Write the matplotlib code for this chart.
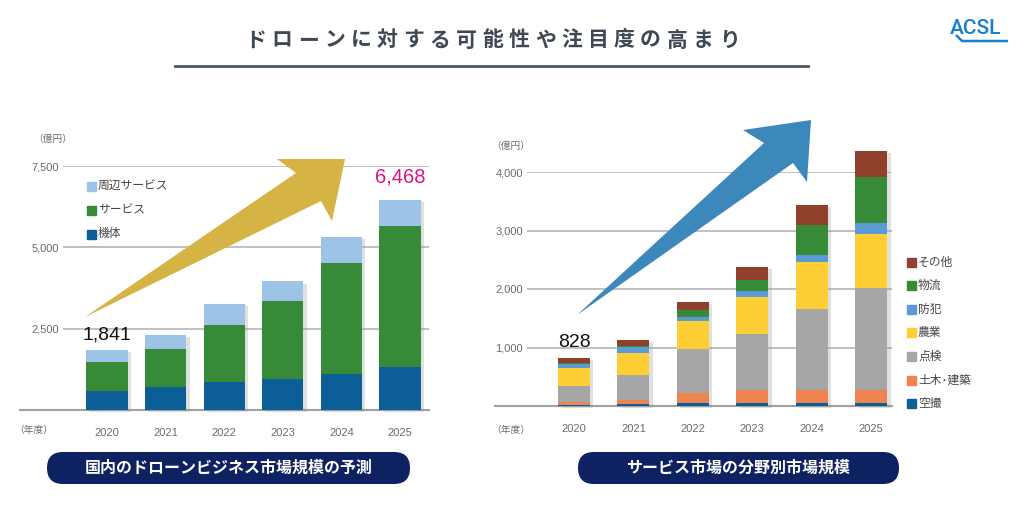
import matplotlib
matplotlib.use("Agg")
import matplotlib.pyplot as plt
import matplotlib.patheffects as pe
from matplotlib.patches import Polygon, FancyBboxPatch, Rectangle
import numpy as np

plt.rcParams["font.family"] = ["Noto Sans CJK JP", "DejaVu Sans"]

# ---- data ----
years = ["2020", "2021", "2022", "2023", "2024", "2025"]

# 国内のドローンビジネス市場規模 (億円)
left_names = ["機体", "サービス", "周辺サービス"]
kitai = [590, 710, 860, 950, 1100, 1330]
service = [880, 1160, 1760, 2410, 3430, 4330]
shuhen = [371, 440, 630, 590, 790, 808]
left_series = [kitai, service, shuhen]
left_colors = ["#0B5F96", "#368A38", "#9DC3E6"]
left_first = "1,841"
left_last = "6,468"

# サービス市場の分野別市場規模 (億円)
right_names = ["空撮", "土木･建築", "点検", "農業", "防犯", "物流", "その他"]
kusatsu = [15, 30, 46, 46, 46, 56]
doboku = [55, 74, 178, 224, 236, 222]
tenken = [265, 422, 753, 954, 1373, 1743]
nogyo = [312, 387, 483, 632, 799, 917]
bohan = [75, 104, 69, 104, 121, 186]
butsuryu = [15, 5, 109, 189, 517, 788]
sonota = [91, 111, 144, 225, 345, 448]
right_series = [kusatsu, doboku, tenken, nogyo, bohan, butsuryu, sonota]
right_colors = ["#0B5F96", "#EE8450", "#A6A6A6", "#FDCF35", "#5B9BD5", "#368A38", "#8E402A"]
right_first = "828"
right_last = "4,360"

W, H = 1024, 508
fig = plt.figure(figsize=(W / 100, H / 100), dpi=100)
fig.patch.set_facecolor("white")

num_font = ["Liberation Sans", "DejaVu Sans"]


def px_axes(x0, y0, x1, y1):
    # axes box given in pixel coords (top-left origin)
    return fig.add_axes([x0 / W, (H - y1) / H, (x1 - x0) / W, (y1 - y0) / H])


def stacked(ax, series, colors, width, yticks, ymax, base_left):
    x = np.arange(len(years))
    totals = np.sum(series, axis=0)
    # soft shadow bar behind
    ax.bar(x, totals, width=width, color="white", zorder=2, clip_on=False,
           path_effects=[pe.SimplePatchShadow(offset=(2.5, -1.5), shadow_rgbFace="#999999", alpha=0.3),
                         pe.Normal()])
    bottom = np.zeros(len(years))
    for vals, c in zip(series, colors):
        ax.bar(x, vals, bottom=bottom, width=width, color=c, zorder=3, linewidth=0, clip_on=False)
        bottom += np.array(vals)
    ax.set_ylim(0, ymax)
    ax.set_yticks(yticks)
    ax.set_yticklabels([f"{v:,}" for v in yticks], color="#6a6a6a", fontsize=8, family=num_font)
    ax.tick_params(axis="y", length=0, pad=3)
    ax.set_xticks(x)
    ax.set_xticklabels(years, color="#6a6a6a", fontsize=8, family=num_font)
    ax.tick_params(axis="x", length=0, pad=13)
    ax.grid(axis="y", color="#b5b5b5", linewidth=1.2, zorder=0)
    ax.set_axisbelow(True)
    for s in ax.spines.values():
        s.set_visible(False)
    ax.axhline(0, xmin=base_left, xmax=1, color="#a0a0a0", linewidth=1.5, clip_on=False, zorder=1)
    ax.set_facecolor("none")
    return x, totals


# left chart
axL = px_axes(63, 166, 429, 410)
axL.set_xlim(-0.751, 5.495)
xL, totL = stacked(axL, left_series, left_colors, 0.70, [2500, 5000, 7500], 7500, -0.117)
axL.annotate(left_first, (xL[0], totL[0]), xytext=(0, 7), textcoords="offset pixels",
             ha="center", va="bottom", fontsize=14, color="#111111", family=num_font)
axL.annotate(left_last, (xL[-1], totL[-1]), xytext=(0, 13), textcoords="offset pixels",
             ha="center", va="bottom", fontsize=14.5, color="#E0157D", family=num_font)

# right chart
axR = px_axes(527, 172, 892, 406)
axR.set_xlim(-0.79, 5.35)
xR, totR = stacked(axR, right_series, right_colors, 0.54, [1000, 2000, 3000, 4000], 4000, -0.088)
axR.annotate(right_first, (xR[0], totR[0]), xytext=(0, 7), textcoords="offset pixels",
             ha="center", va="bottom", fontsize=14, color="#111111", family=num_font)
axR.annotate(right_last, (xR[-1], totR[-1]), xytext=(0, 15), textcoords="offset pixels",
             ha="center", va="bottom", fontsize=14.5, color="#E0157D", family=num_font)

# overlay for decorations, pixel coords
ov = fig.add_axes([0, 0, 1, 1])
ov.set_xlim(0, W)
ov.set_ylim(H, 0)
ov.axis("off")
ov.set_zorder(10)
ov.patch.set_visible(False)

# title, spaced characters
title = "ドローンに対する可能性や注目度の高まり"
for i, ch in enumerate(title):
    ov.text(256 + i * 26.3, 40, ch, ha="center", va="center", fontsize=15,
            fontweight="bold", color="#3f4752")
ov.plot([175, 808], [66, 66], color="#4d5663", linewidth=2)

# logo
ov.text(975, 28, "ACSL", ha="center", va="center", fontsize=15, color="#1A80CC",
        family=["Roboto", "DejaVu Sans"], fontweight="medium")
ov.plot([956, 962, 1008], [35, 41, 41], color="#1A80CC", linewidth=1.8, solid_capstyle="butt")

# arrows
gold = Polygon([(85, 317), (296, 173), (277, 159), (345, 159), (332, 221), (321, 201)],
               closed=True, facecolor="#D6B345", edgecolor="none")
blue = Polygon([(577, 315), (764, 143), (743, 130), (811, 120), (807, 182), (793, 163)],
               closed=True, facecolor="#3D88BA", edgecolor="none")
ov.add_patch(gold)
ov.add_patch(blue)

# axis unit labels
for x, y in [(53, 139), (511, 146)]:
    ov.text(x, y, "（億円）", ha="center", va="center", fontsize=7, color="#6a6a6a")
for x in [34, 511]:
    ov.text(x, 430, "（年度）", ha="center", va="center", fontsize=7, color="#6a6a6a")

# legends (drawn top to bottom)
for i, (name, c) in enumerate(zip(left_names[::-1], left_colors[::-1])):
    y = 186 + i * 24
    ov.add_patch(Rectangle((87, y - 4.5), 9, 9, color=c))
    ov.text(98, y, name, ha="left", va="center", fontsize=8.5, color="#444444")
for i, (name, c) in enumerate(zip(right_names[::-1], right_colors[::-1])):
    y = 262 + i * 23.6
    ov.add_patch(Rectangle((907, y - 4.5), 9, 9, color=c))
    ov.text(918, y, name, ha="left", va="center", fontsize=8.5, color="#444444")

# pills
for (x0, x1, label) in [(47, 410, "国内のドローンビジネス市場規模の予測"),
                        (578, 899, "サービス市場の分野別市場規模")]:
    ov.add_patch(FancyBboxPatch((x0 + 16, 468), x1 - x0 - 32, 0,
                                boxstyle="round,pad=16", facecolor="#0E2161", edgecolor="none"))
    ov.text((x0 + x1) / 2, 468, label, ha="center", va="center", fontsize=11.5,
            fontweight="bold", color="white")

fig.savefig("out.png", dpi=100)
